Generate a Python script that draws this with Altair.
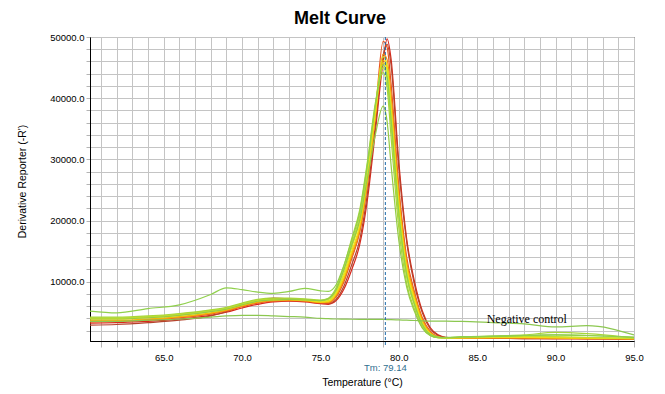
import altair as alt
import pandas as pd

# ---------------- data ----------------
temps = [60.3, 62, 64, 66, 68, 69, 70, 71, 72, 73, 74, 75, 75.5, 76, 76.5, 77, 77.5, 78,
         78.5, 79, 79.25, 79.5, 80, 80.5, 81, 81.5, 82, 82.5, 83, 84, 86, 88, 90, 92, 95]

series_names = ["s01", "s02", "s03", "s04", "s05", "s06", "s07", "s08", "s09", "s10", "s11", "s12"]
series_colors = ["#d8281c", "#b4442c", "#ea5420", "#f28c12", "#f4b808", "#f6dc14",
                 "#dce61c", "#c2de30", "#a8d638", "#94cc46", "#90d04c", "#8cc850"]

s01 = [3200, 3300, 3500, 3900, 4500, 5000, 5700, 6300, 6700, 6800, 6700, 6400, 6300, 6900, 8800, 12000, 16000, 23500,
       34500, 46000, 49700, 46500, 29500, 17000, 10000, 5200, 2500, 1300, 900, 800, 750, 700, 700, 700, 650]
s02 = [2900, 3000, 3300, 3700, 4400, 5100, 6100, 6900, 7300, 7200, 7000, 6600, 6400, 7100, 9300, 12800, 16800, 24500,
       35500, 47000, 48800, 45500, 28500, 16500, 9500, 4900, 2300, 1200, 850, 750, 750, 700, 700, 650, 600]
s03 = [3400, 3500, 3700, 4100, 4700, 5200, 5900, 6500, 6800, 6900, 6800, 6500, 6500, 7500, 10000, 13800, 18000, 26000,
       37500, 49300, 48300, 42500, 25500, 14000, 8300, 4100, 1900, 1000, 800, 750, 750, 750, 700, 700, 650]
s04 = [3600, 3600, 3800, 4200, 4800, 5300, 6000, 6600, 6900, 7000, 6900, 6600, 6600, 7700, 10300, 14200, 18300, 26200,
       37200, 47200, 46300, 40800, 24500, 13300, 7900, 3800, 1700, 1000, 800, 800, 800, 800, 750, 700, 650]
s05 = [3700, 3700, 3900, 4300, 4900, 5400, 6100, 6700, 7000, 7000, 6900, 6600, 6700, 7900, 10600, 14600, 18800, 26600,
       37000, 46200, 45100, 39300, 23500, 12700, 7500, 3500, 1600, 950, 800, 800, 850, 850, 800, 750, 700]
s06 = [3900, 3900, 4100, 4500, 5100, 5500, 6200, 6800, 7000, 7100, 7000, 6700, 6800, 8100, 11000, 15000, 19200, 27200,
       37600, 45800, 44600, 38200, 22700, 12200, 7100, 3300, 1500, 900, 800, 850, 900, 900, 850, 800, 700]
s07 = [4000, 4000, 4200, 4600, 5200, 5600, 6300, 6900, 7100, 7100, 7000, 6800, 6900, 8300, 11400, 15600, 20000, 28200,
       38600, 46800, 45300, 38300, 22200, 11700, 6700, 3100, 1400, 900, 800, 850, 950, 1000, 950, 850, 750]
s08 = [4100, 4100, 4300, 4700, 5300, 5700, 6400, 7000, 7200, 7200, 7100, 6900, 7100, 8600, 12000, 16300, 20700, 28700,
       38600, 45000, 43100, 35700, 20300, 10700, 6100, 2800, 1300, 850, 800, 900, 1000, 1100, 1000, 900, 750]
s09 = [4200, 4200, 4400, 4800, 5400, 5800, 6500, 7100, 7300, 7300, 7200, 7000, 7300, 9000, 12600, 17100, 21700, 29700,
       39200, 44200, 41700, 33800, 18700, 9700, 5500, 2500, 1200, 850, 850, 950, 1100, 1300, 1700, 1500, 800]
s10 = [3900, 3900, 4100, 4500, 5100, 5500, 6200, 6800, 7000, 7100, 7000, 6900, 7200, 8700, 12000, 16000, 20000, 27000,
       34000, 38700, 36200, 29200, 16700, 9100, 5100, 2400, 1200, 850, 850, 950, 1050, 1200, 1300, 1200, 900]
s11 = [5200, 4900, 5600, 6200, 7900, 9000, 8700, 8300, 8100, 8400, 8900, 8500, 8400, 9500, 12700, 16800, 21300, 29300,
       38800, 45500, 43600, 36700, 21200, 11200, 6300, 3000, 1400, 950, 900, 1000, 1100, 1200, 1300, 1200, 950]
s12 = [3500, 3500, 3700, 3900, 4200, 4400, 4500, 4500, 4400, 4300, 4200, 4000, 3950, 3900, 3880, 3860, 3850, 3840,
       3830, 3820, 3810, 3800, 3750, 3700, 3650, 3600, 3550, 3550, 3550, 3500, 3300, 3100, 2600, 2800, 1300]

series_values = {"s01": s01, "s02": s02, "s03": s03, "s04": s04, "s05": s05, "s06": s06,
                 "s07": s07, "s08": s08, "s09": s09, "s10": s10, "s11": s11, "s12": s12}

tm_value = 79.14
tm_label = "Tm: 79.14"
neg_label = "Negative control"
neg_temp = 85.6
neg_value = 3900
chart_title = "Melt Curve"

x_grid = list(range(61, 96))
y_grid = list(range(2000, 50001, 2000))

# ---------------- build tables ----------------
rows = []
for name in series_names:
    for t, v in zip(temps, series_values[name]):
        rows.append({"series": name, "temp": t, "value": v})
df = pd.DataFrame(rows)

x_scale = alt.Scale(domain=[60.3, 95], nice=False, zero=False)
y_scale = alt.Scale(domain=[300, 50000], nice=False, zero=False)

FONT = "Liberation Sans"

x_axis = alt.Axis(
    values=x_grid, tickCount=200,
    labelExpr="datum.value % 5 == 0 ? format(datum.value, '.1f') : ''",
    labelOverlap=False, labelFlush=False,
    title="Temperature (°C)", titleX=272, titleY=41,
    titleAlign="center", titleBaseline="middle",
    tickSize=6, labelPadding=5,
)
y_axis = alt.Axis(
    values=y_grid, tickCount=200,
    labelExpr="datum.value % 10000 == 0 ? format(datum.value, '.1f') : ''",
    labelOverlap=False, labelFlush=False,
    title="Derivative Reporter (-R')", titleX=-68, titleY=144,
    titleAlign="center", titleBaseline="middle", titleAngle=-90,
    tickSize=4, labelPadding=2,
)

lines = alt.Chart(df).mark_line(strokeWidth=1.2, interpolate="monotone", clip=True).encode(
    x=alt.X("temp:Q", scale=x_scale, axis=x_axis),
    y=alt.Y("value:Q", scale=y_scale, axis=y_axis),
    color=alt.Color("series:N", scale=alt.Scale(domain=series_names, range=series_colors), legend=None),
    order=alt.Order("temp:Q"),
)

tm_df = pd.DataFrame({"temp": [tm_value], "label": [tm_label]})
tm_rule = alt.Chart(tm_df).mark_rule(color="#1f6aa8", strokeDash=[3, 2], strokeWidth=1).encode(
    x=alt.X("temp:Q", scale=x_scale),
    y=alt.value(0), y2=alt.value(310),
)
tm_text = alt.Chart(tm_df).mark_text(
    color="#2f6f90", fontSize=9.5, font=FONT, baseline="middle", align="center"
).encode(
    x=alt.X("temp:Q", scale=x_scale),
    y=alt.value(331),
    text="label:N",
)

neg_df = pd.DataFrame({"temp": [neg_temp], "value": [neg_value], "label": [neg_label]})
neg_text = alt.Chart(neg_df).mark_text(
    font="Liberation Serif", fontSize=12, color="black", align="left", baseline="middle"
).encode(
    x=alt.X("temp:Q", scale=x_scale),
    y=alt.Y("value:Q", scale=y_scale),
    text="label:N",
)

title_df = pd.DataFrame({"label": [chart_title]})
title_text = alt.Chart(title_df).mark_text(
    font="Liberation Sans Narrow, Arial Narrow, Liberation Sans, sans-serif",
    fontSize=18, fontWeight="bold", color="black", align="center", baseline="middle"
).encode(
    x=alt.value(250), y=alt.value(-18), text="label:N",
)

chart = alt.layer(lines, tm_rule, tm_text, neg_text, title_text).properties(
    width=544, height=304,
    autosize="none",
    padding={"left": 82, "top": 29, "right": 20, "bottom": 50},
    background="white",
).configure_view(
    stroke="black", strokeWidth=1,
).configure_axis(
    grid=True, gridColor="#c4c4c4", gridWidth=1,
    domain=True, domainColor="black", domainWidth=1,
    tickColor="#b4b4b4", tickWidth=1,
    labelFont=FONT, labelFontSize=9.5, labelColor="black",
    titleFont=FONT, titleFontSize=10.5, titleFontWeight="normal", titleColor="black",
)

chart.save("out.html", embed_options={"renderer": "svg", "actions": False})
